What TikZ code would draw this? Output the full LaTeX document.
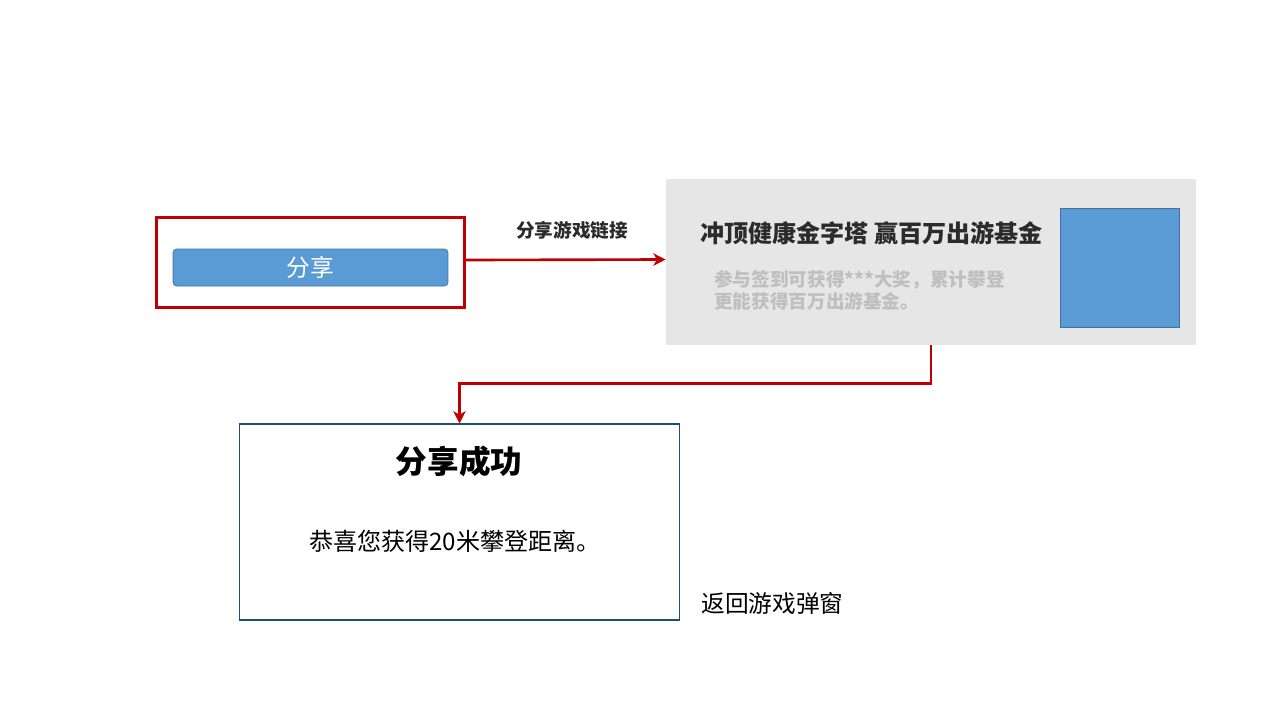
\documentclass[tikz,border=0pt]{standalone}
\usepackage{fontspec}
\newfontfamily\cjk{Noto Sans CJK SC}
\usepackage{tikz}
\usetikzlibrary{arrows.meta}
\definecolor{sharered}{HTML}{C00000}
\definecolor{btnblue}{HTML}{5B9BD5}
\definecolor{btnline}{HTML}{41719C}
\definecolor{cardgray}{HTML}{E7E6E6}
\definecolor{titlegray}{HTML}{2B2B2B}
\definecolor{subgray}{HTML}{BFBFBF}
\definecolor{boxblue}{HTML}{1F4E79}

\begin{document}
\begin{tikzpicture}[x=0.02cm, y=-0.02cm, every node/.style={font=\cjk, inner sep=0pt},
    flow/.style={draw=sharered, line width=1.5pt, -{Stealth[length=7pt,width=7pt,inset=2pt]}}]
		\useasboundingbox (0,0) rectangle (1280,720);

		\node[draw=sharered, line width=1.7pt, minimum width=6.15cm, minimum height=1.8cm] (frame)at(310.5,262.5) {};
		\node[draw=btnline, fill=btnblue, rounded corners=2pt, minimum width=5.5cm, minimum height=0.74cm,
		      text=white, font=\cjk\fontsize{13.5}{16}\selectfont] (btn)at(310.5,267.5) {分享};

		\node[fill=cardgray, minimum width=10.6cm, minimum height=3.32cm] (card)at(931,262) {};
		\node[draw=btnline, fill=btnblue, line width=0.5pt, minimum width=2.38cm, minimum height=2.38cm] (pic)at(1119.5,267.5) {};
		\node[anchor=west, text=titlegray, font=\cjk\bfseries\fontsize{13.7}{16}\selectfont] (title)at(700,233) {冲顶健康金字塔 赢百万出游基金};
		\node[anchor=west, align=left, text=subgray, font=\cjk\bfseries\fontsize{10.6}{12.6}\selectfont] (sub)at(714,290) {参与签到可获得***大奖，累计攀登\\更能获得百万出游基金。};

		\node[font=\cjk\bfseries\fontsize{10.6}{13}\selectfont, text=titlegray] (lbl)at(572,230) {分享游戏链接};

		\node[draw=boxblue, line width=0.6pt, minimum width=8.82cm, minimum height=3.92cm] (res)at(459.5,522) {};
		\node[font=\cjk\bfseries\fontsize{18}{20}\selectfont] (restitle)at(459,461) {分享成功};
		\node[font=\cjk\fontsize{13.7}{16}\selectfont] (restext)at(455,541) {恭喜您获得20米攀登距离。};
		\node[anchor=west, font=\cjk\fontsize{13.5}{16}\selectfont] (back)at(701,603) {返回游戏弹窗};

		\draw[flow] ([yshift=0.05cm]frame.east) -- ([yshift=0.05cm]card.west);
		\draw[flow] (card.south) -- ++(0,38) -| (res.north);
\end{tikzpicture}
\end{document}
